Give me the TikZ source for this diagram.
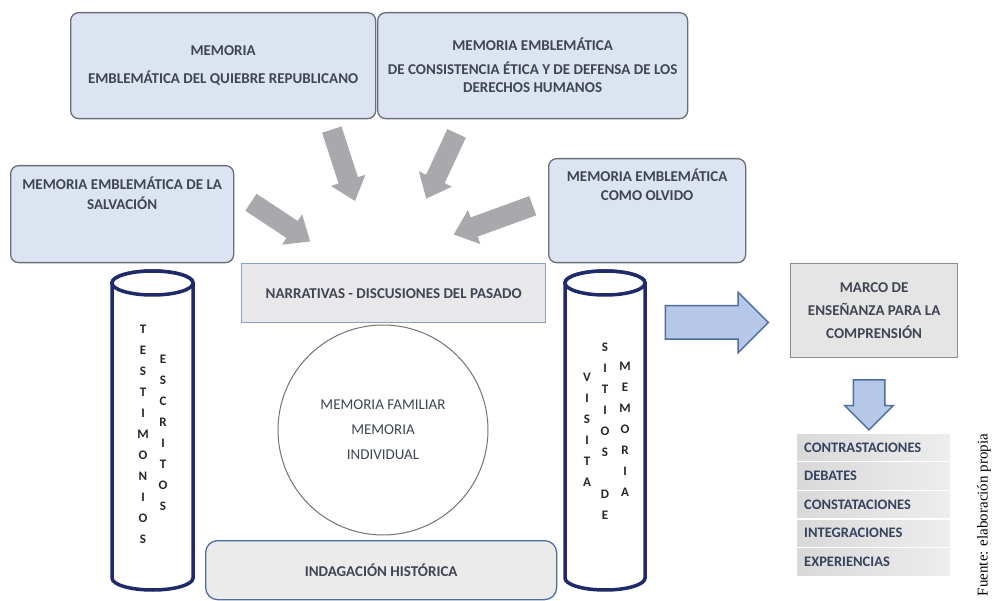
\documentclass[tikz,border=0pt]{standalone}
\usepackage{fontspec}
\setmainfont{Carlito}
\newfontfamily\fuentefont{Liberation Serif}
\usetikzlibrary{shapes.arrows}
\definecolor{azulclaro}{HTML}{DCE4F2}
\definecolor{bordegris}{HTML}{6A6E78}
\definecolor{grisclaro}{HTML}{E8E8EA}
\definecolor{bordeazul}{HTML}{8AA0C0}
\definecolor{bordeoscuro}{HTML}{4F6C9E}
\definecolor{marino}{HTML}{1F2A6B}
\definecolor{flechagris}{HTML}{A8A8AD}
\definecolor{flechaazul}{HTML}{B5C8E8}
\definecolor{texto}{HTML}{404552}
\definecolor{textolista}{HTML}{35435F}
\begin{document}
\begin{tikzpicture}[x=1pt, y=-1pt,
  memo/.style = {draw=bordegris, fill=azulclaro, rounded corners=8pt, line width=1.3pt, anchor=north west, align=center, inner sep=0pt, text=texto, font=\fontsize{15}{18}\selectfont\bfseries},
  caja/.style = {draw=bordeazul, fill=grisclaro, line width=1.3pt, anchor=north west, align=center, inner sep=0pt, text=texto, font=\fontsize{15}{18}\selectfont\bfseries},
  pilar/.style = {draw=marino, fill=white, line width=3.5pt},
  letras/.style = {anchor=north, align=center, inner sep=0pt, font=\fontsize{13}{21}\selectfont\bfseries, text=black!85},
  flecha/.style = {single arrow, fill=flechagris, inner sep=10pt, single arrow head extend=8pt, single arrow tip angle=80},
  flechaz/.style = {single arrow, fill=flechaazul, draw=bordeoscuro, line width=1.5pt, single arrow tip angle=90},
  item/.style = {anchor=north west, minimum width=153pt, minimum height=26.5pt, text width=139pt, align=left, inner xsep=7pt, inner ysep=0pt, left color=black!15, right color=black!7, text=textolista, font=\fontsize{14.5}{16}\selectfont\bfseries}]
\useasboundingbox (0,0) rectangle (993,601);

\node[memo, minimum width=305pt, minimum height=106pt] (quiebre) at (70,12) {MEMORIA\\[10pt]EMBLEMÁTICA DEL QUIEBRE REPUBLICANO};
\node[memo, minimum width=310pt, minimum height=106pt] (etica) at (377,12) {MEMORIA EMBLEMÁTICA\\[6pt]DE CONSISTENCIA ÉTICA Y DE DEFENSA DE LOS\\DERECHOS HUMANOS};
\node[memo, minimum width=223pt, minimum height=97pt, text depth=42pt] (salvacion) at (10,165) {MEMORIA EMBLEMÁTICA DE LA\\[2pt]SALVACIÓN};
\node[memo, minimum width=197pt, minimum height=104pt, text depth=52pt] (olvido) at (548,158) {MEMORIA EMBLEMÁTICA\\[1pt]COMO OLVIDO};

\node[flecha, rotate=-72, minimum height=75pt] (fq) at (341.5,159.5) {};
\node[flecha, rotate=-115, minimum height=72pt] (fe) at (444,160.5) {};
\node[flecha, rotate=-33.5, minimum height=71pt] (fs) at (275.5,218.5) {};
\node[flecha, rotate=-160, minimum height=84pt] (fo) at (499,218) {};

\node[caja, minimum width=304pt, minimum height=59pt] (narrativas) at (241,263) {NARRATIVAS - DISCUSIONES DEL PASADO};
\node[circle, draw=black!55, line width=1pt, minimum size=210pt, align=center, text=texto, font=\fontsize{15}{18}\selectfont] (familiar) at (383,430) {MEMORIA FAMILIAR\\[7pt]MEMORIA\\[7pt]INDIVIDUAL};
\node[caja, draw=bordeoscuro, fill=black!8, rounded corners=12pt, minimum width=351pt, minimum height=59pt] (indagacion) at (205,540) {INDAGACIÓN HISTÓRICA};

% pilares
\path[pilar] (112,283) -- (112,578) arc[start angle=180, end angle=360, x radius=40.5pt, y radius=12pt] -- (193,283) arc[start angle=0, end angle=180, x radius=40.5pt, y radius=12pt] -- cycle;
\draw[pilar] (152.5,283) ellipse [x radius=40.5pt, y radius=12pt];
\node[letras] (t1) at (143,325) {T\\E\\S\\T\\I\\M\\O\\N\\I\\O\\S};
\node[letras] (t2) at (163,355) {E\\S\\C\\R\\I\\T\\O\\S};
\path[pilar] (565,283) -- (565,578) arc[start angle=180, end angle=360, x radius=40pt, y radius=12pt] -- (645,283) arc[start angle=0, end angle=180, x radius=40pt, y radius=12pt] -- cycle;
\draw[pilar] (605,283) ellipse [x radius=40pt, y radius=12pt];
\node[letras] (v1) at (587,373) {V\\I\\S\\I\\T\\A};
\node[letras] (v2) at (605,343) {S\\I\\T\\I\\O\\S\\[21pt]D\\E};
\node[letras] (v3) at (625,362) {M\\E\\M\\O\\R\\I\\A};

\node[flechaz, inner sep=16pt, single arrow head extend=13.5pt, minimum height=103pt] (fm) at (708.5,322.5) {};
\node[caja, draw=black!45, fill=black!10, minimum width=167pt, minimum height=94pt] (marco) at (790,263) {MARCO DE\\[5pt]ENSEÑANZA PARA LA\\[5pt]COMPRENSIÓN};
\node[flechaz, rotate=-90, inner sep=15pt, single arrow head extend=8.5pt, minimum height=50pt] (fl) at (869,397) {};

\node[item] (contrastaciones) at (797,434) {CONTRASTACIONES};
\node[item] (debates) at (797,462.6) {DEBATES};
\node[item] (constataciones) at (797,491.2) {CONSTATACIONES};
\node[item] (integraciones) at (797,519.8) {INTEGRACIONES};
\node[item] (experiencias) at (797,548.4) {EXPERIENCIAS};

\node[rotate=90, font=\fuentefont\fontsize{15}{18}\selectfont] (fuente) at (984,515) {Fuente: elaboración propia};
\end{tikzpicture}
\end{document}
